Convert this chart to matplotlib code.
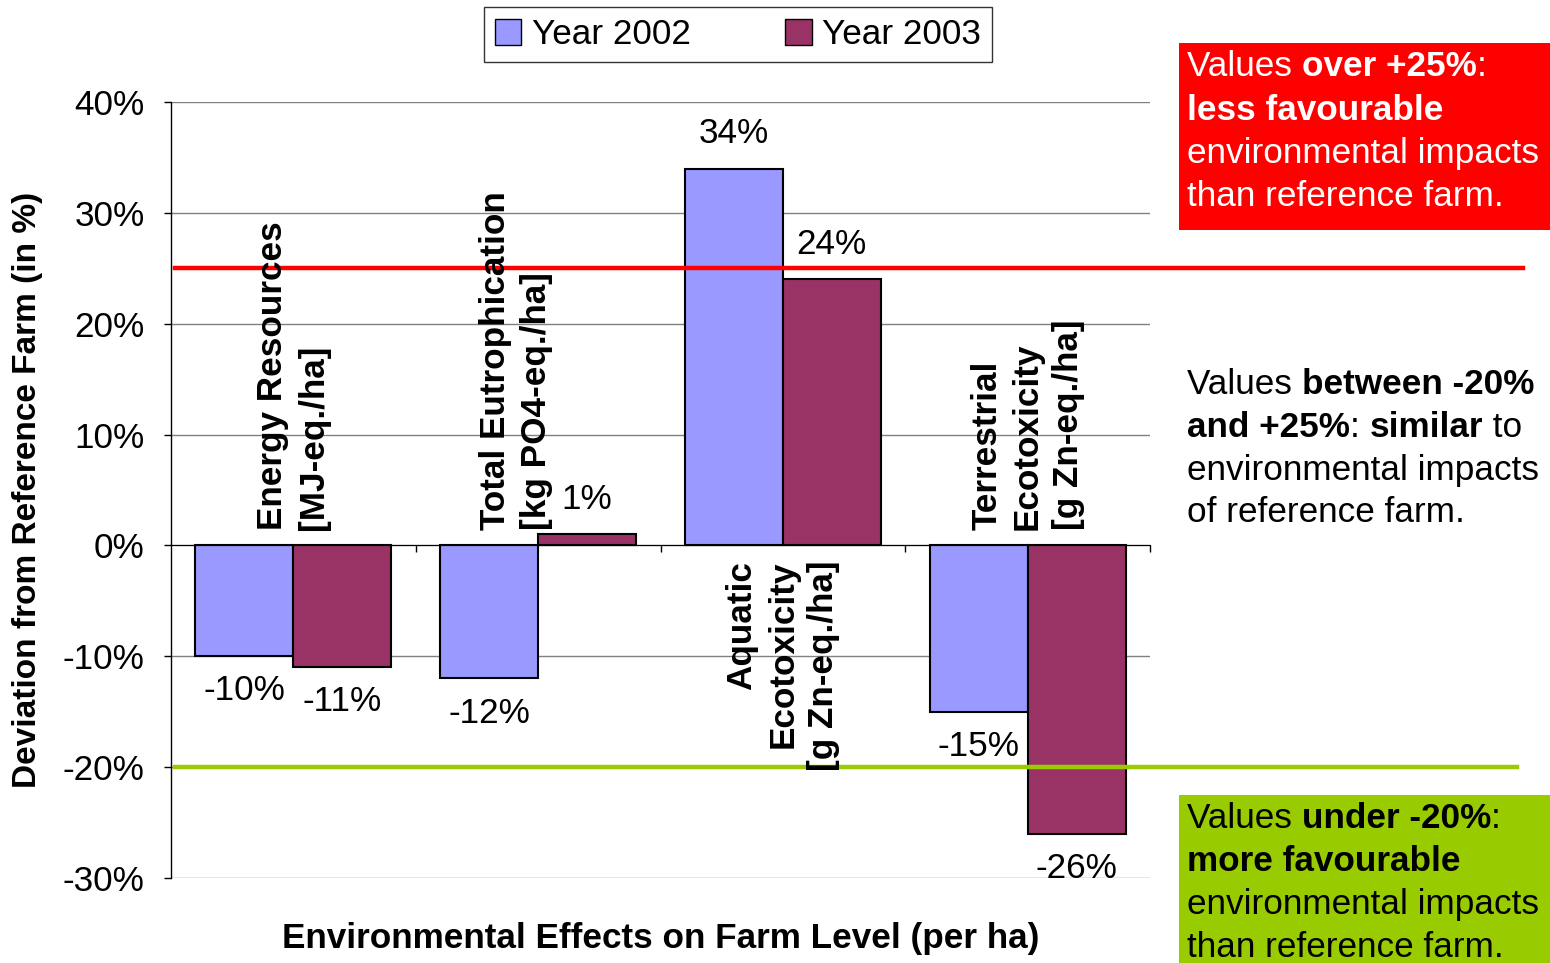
import matplotlib
matplotlib.use("Agg")
import matplotlib.pyplot as plt
import numpy as np
from matplotlib.patches import Rectangle, Patch

plt.rcParams["font.family"] = ["Liberation Sans", "DejaVu Sans"]

categories = [
    "Energy Resources\n[MJ-eq./ha]",
    "Total Eutrophication\n[kg PO4-eq./ha]",
    "Aquatic\nEcotoxicity\n[g Zn-eq./ha]",
    "Terrestrial\nEcotoxicity\n[g Zn-eq./ha]",
]
year_2002 = [-10, -12, 34, -15]
year_2003 = [-11, 1, 24, -26]
series_names = ["Year 2002", "Year 2003"]
upper_limit = 25
lower_limit = -20
yticks = [-30, -20, -10, 0, 10, 20, 30, 40]

C2002 = "#9999FF"
C2003 = "#993366"
RED = "#FF0000"
GREEN = "#99CC00"
FS = 25.3

W, H = 1550, 963
fig = plt.figure(figsize=(W / 100, H / 100), dpi=100)
ax = fig.add_axes([171 / W, 1 - 878 / H, (1150 - 171) / W, (878 - 102) / H])

x = np.arange(len(categories))
bw = 0.4
b1 = ax.bar(x - bw, year_2002, bw, align="edge", color=C2002, edgecolor="black", linewidth=1.5, zorder=3)
b2 = ax.bar(x, year_2003, bw, align="edge", color=C2003, edgecolor="black", linewidth=1.5, zorder=3)
for bars in (b1, b2):
    ax.bar_label(bars, labels=[f"{v}%" for v in bars.datavalues], padding=13, fontsize=FS)

ax.set_xlim(-0.5, len(categories) - 0.5)
ax.set_ylim(-30, 40)
ax.set_yticks(yticks)
ax.set_yticklabels([f"{t}%" for t in yticks])
ax.tick_params(axis="y", labelsize=FS, length=5, width=1, pad=14, direction="out")
ax.set_xticks(x + 0.5)
ax.set_xticklabels([])
ax.tick_params(axis="x", length=5, width=1, direction="out")
ax.grid(axis="y", color="#808080", linewidth=1, zorder=0)
ax.set_axisbelow(True)
for s in ("top", "right"):
    ax.spines[s].set_visible(False)
ax.spines["bottom"].set_position(("data", 0))
ax.spines["bottom"].set_zorder(4)
ax.spines["left"].set_linewidth(1)

# category labels inside plot
offsets = [0, -0.09, 0, 0]
above = [True, True, False, True]
for i, (lab, dx, up) in enumerate(zip(categories, offsets, above)):
    ax.annotate(lab, xy=(i + dx, 0), xytext=(0, 11 if up else -11), textcoords="offset points",
                rotation=90, ha="center", va="bottom" if up else "top",
                multialignment="left" if up else "right",
                fontsize=FS, fontweight="bold", linespacing=1.3, zorder=5)

# threshold lines extending beyond the axes
x0 = 4 / (1150 - 171)
ax.axhline(upper_limit, xmin=x0, xmax=(1523 - 171) / (1150 - 171), color=RED, linewidth=3.2, clip_on=False, zorder=4)
ax.axhline(lower_limit, xmin=x0, xmax=(1517 - 171) / (1150 - 171), color=GREEN, linewidth=3.2, clip_on=False, zorder=4)

fig.text(661 / W, 1 - 938 / H, "Environmental Effects on Farm Level (per ha)",
         ha="center", va="center", fontsize=FS, fontweight="bold")
fig.text(28 / W, 1 - 490 / H, "Deviation from Reference Farm (in %)",
         ha="center", va="center", rotation=90, fontsize=24, fontweight="bold")

handles = [Patch(facecolor=C2002, edgecolor="black"), Patch(facecolor=C2003, edgecolor="black")]
leg = fig.legend(handles, series_names, loc="center", bbox_to_anchor=(738 / W, 1 - 34.5 / H),
                 ncol=2, fontsize=FS, frameon=True, fancybox=False, edgecolor="black",
                 handlelength=0.75, handleheight=0.75, handletextpad=0.3, columnspacing=2.7,
                 borderpad=0.32, borderaxespad=0)
leg.get_frame().set_linewidth(1)
leg._legend_box.sep = 0

# side boxes
fig.patches.append(Rectangle((1179 / W, 1 - 230 / H), 371 / W, 187 / H, transform=fig.transFigure,
                             facecolor=RED, edgecolor="none"))
fig.patches.append(Rectangle((1179 / W, 0), 371 / W, (963 - 795) / H, transform=fig.transFigure,
                             facecolor=GREEN, edgecolor="none"))

renderer = fig.canvas.get_renderer()


def rich_line(xp, yp, runs, color):
    xf = xp / W
    for s, bold in runs:
        t = fig.text(xf, 1 - yp / H, s, ha="left", va="center", fontsize=FS, color=color,
                     fontweight="bold" if bold else "normal")
        xf += t.get_window_extent(renderer).width / W


red_lines = [
    [("Values ", False), ("over +25%", True), (":", False)],
    [("less favourable", True)],
    [("environmental impacts", False)],
    [("than reference farm.", False)],
]
mid_lines = [
    [("Values ", False), ("between -20%", True)],
    [("and +25%", True), (": ", False), ("similar", True), (" to", False)],
    [("environmental impacts", False)],
    [("of reference farm.", False)],
]
green_lines = [
    [("Values ", False), ("under -20%", True), (":", False)],
    [("more favourable", True)],
    [("environmental impacts", False)],
    [("than reference farm.", False)],
]
for block, y0, col in ((red_lines, 67, "white"), (mid_lines, 384, "black"), (green_lines, 818, "black")):
    for k, runs in enumerate(block):
        rich_line(1187, y0 + k * 43, runs, col)

fig.savefig("out.png", dpi=100)
